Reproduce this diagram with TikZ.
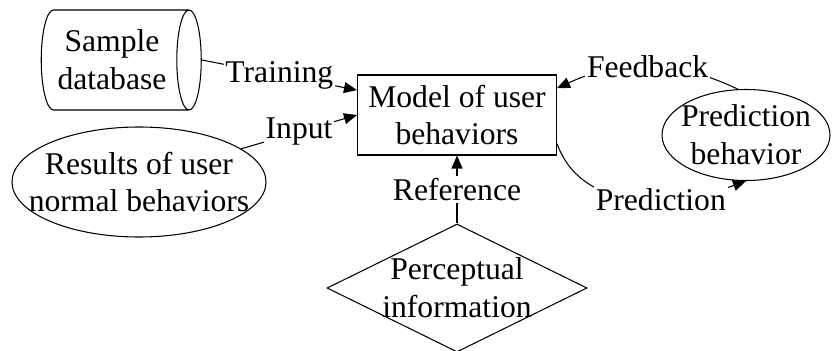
\documentclass[tikz,border=0pt]{standalone}
\usepackage{fontspec}
\setmainfont{Liberation Serif}
\usetikzlibrary{positioning,arrows.meta,shapes.geometric}

\begin{document}
\begin{tikzpicture}[every node/.style={font=\fontsize{18}{21.6}\selectfont},
  box/.style={draw,align=center,minimum width=3.98cm,minimum height=1.6cm,inner sep=2pt},
  blob/.style={draw,inner sep=0pt},
  tag/.style={fill=white,inner sep=1pt},
  line width=0.6pt,>={Triangle[length=0.26cm,width=0.22cm]},on grid]
\useasboundingbox (-9.14,-4.72) rectangle (7.50,2.30);
\node[box] (model) {Model of user\\behaviors};
\node[cylinder,shape border rotate=0,aspect=0.34,draw,align=center,minimum width=2cm,
  minimum height=3.2cm,above left=1.10cm and 6.90cm of model] (db) {Sample\\database};
\node[ellipse,blob,minimum width=5.08cm,minimum height=2.2cm,below left=1.34cm and 6.36cm of model,
  label={[align=center]center:Results of user\\normal behaviors}] (normal) {};
\node[ellipse,blob,minimum width=3.36cm,minimum height=1.82cm,below right=0.40cm and 5.78cm of model,
  label={[align=center]center:Prediction\\behavior}] (pred) {};
\node[diamond,blob,minimum width=5.2cm,minimum height=2.56cm,below=3.46cm of model,
  label={[align=center]center:Perceptual\\information}] (percep) {};
\draw[->] (db.east) -- node[tag]{Training} (model.166);
\draw[->] (normal.18) -- node[tag]{Input} (model.west);
\draw[->] (percep.north) -- node[tag]{Reference} (model.south);
\draw[->] (pred.100) to[bend right=25] node[tag]{Feedback} (model.15);
\draw[->] (model.-16) to[out=-70,in=200] node[tag,pos=0.62]{Prediction} (pred.south);
\end{tikzpicture}
\end{document}
